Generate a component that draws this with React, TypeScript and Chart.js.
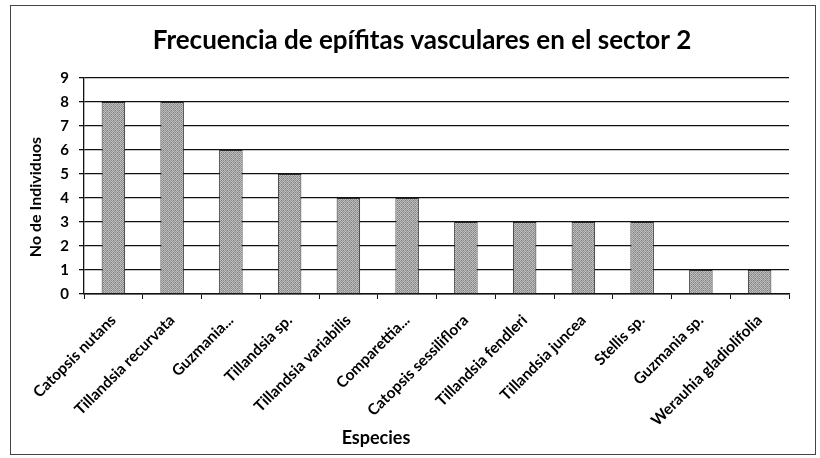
import React, { useEffect, useRef } from "react";
import { Chart, registerables } from "chart.js";

Chart.register(...registerables);

const categories = [
  "Catopsis nutans",
  "Tillandsia recurvata",
  "Guzmania...",
  "Tillandsia sp.",
  "Tillandsia variabilis",
  "Comparettia...",
  "Catopsis sessiliflora",
  "Tillandsia fendleri",
  "Tillandsia juncea",
  "Stellis sp.",
  "Guzmania sp.",
  "Werauhia gladiolifolia",
];
const counts = [8, 8, 6, 5, 4, 4, 3, 3, 3, 3, 1, 1];
const yMin = 0;
const yMax = 9;
const yStep = 1;
const chartTitle = "Frecuencia de epífitas vasculares en el sector 2";
const xTitle = "Especies";
const yTitle = "No de Individuos";

const FONT = "Lato, 'Open Sans', sans-serif";

function makeStipple(): CanvasPattern | string {
  const c = document.createElement("canvas");
  c.width = 4;
  c.height = 4;
  const g = c.getContext("2d");
  if (!g) return "#9d9d9d";
  const shades = [
    "#7c7c7c", "#c2c2c2", "#888888", "#bcbcbc",
    "#b8b8b8", "#9a9a9a", "#c6c6c6", "#8e8e8e",
    "#8a8a8a", "#c0c0c0", "#7e7e7e", "#bebebe",
    "#c4c4c4", "#929292", "#b6b6b6", "#969696",
  ];
  for (let i = 0; i < 16; i++) {
    g.fillStyle = shades[i];
    g.fillRect(i % 4, Math.floor(i / 4), 1, 1);
  }
  return g.createPattern(c, "repeat") || "#9d9d9d";
}

const textPlugin = {
  id: "textPlugin",
  afterDraw(chart: any) {
    const ctx = chart.ctx;
    ctx.save();
    ctx.fillStyle = "#000";
    ctx.textAlign = "center";
    ctx.textBaseline = "middle";
    ctx.font = `bold 26px ${FONT}`;
    ctx.fillText(chartTitle, 411, 35);
    ctx.font = `bold 18px ${FONT}`;
    ctx.fillText(xTitle, 365, 432);
    ctx.translate(25, 191);
    ctx.rotate(-Math.PI / 2);
    ctx.font = `bold 16px ${FONT}`;
    ctx.fillText(yTitle, 0, 0);
    ctx.restore();
  },
};

export default function App() {
  const ref = useRef<HTMLCanvasElement | null>(null);
  useEffect(() => {
    document.body.style.margin = "0";
    document.body.style.background = "#fff";
    const chart = new Chart(ref.current as HTMLCanvasElement, {
      type: "bar",
      data: {
        labels: categories,
        datasets: [
          {
            data: counts,
            backgroundColor: makeStipple() as any,
            borderColor: "#2a2a2a",
            borderWidth: 1,
            barPercentage: 0.4,
            categoryPercentage: 1,
          },
        ],
      },
      options: {
        animation: false,
        responsive: false,
        layout: { padding: { left: 0, right: 26, top: 72, bottom: 0 } },
        plugins: {
          legend: { display: false },
          title: { display: false },
          tooltip: { enabled: false },
        },
        scales: {
          x: {
            grid: {
              display: true,
              drawOnChartArea: false,
              drawTicks: true,
              tickLength: 5,
              offset: true,
              color: "#111",
            },
            border: { display: true, color: "#111", width: 1.5 },
            ticks: {
              color: "#000",
              font: { family: FONT, size: 15.5, weight: "bold" },
              minRotation: 45,
              maxRotation: 45,
              autoSkip: false,
              padding: 12,
            },
            afterFit(scale: any) {
              scale.height = 160;
            },
          },
          y: {
            min: yMin,
            max: yMax,
            grid: {
              color: "#111",
              lineWidth: 1.3,
              drawTicks: true,
              tickLength: 5,
            },
            border: { display: true, color: "#111", width: 1.3 },
            ticks: {
              stepSize: yStep,
              color: "#000",
              font: { family: FONT, size: 15, weight: "bold" },
              padding: 10,
            },
            afterFit(scale: any) {
              scale.width = 73;
            },
          },
        },
      },
      plugins: [textPlugin],
    });
    return () => chart.destroy();
  }, []);
  return (
    <div
      style={{
        position: "absolute",
        left: 10,
        top: 5,
        width: 806,
        height: 450,
        border: "1px solid #444",
        boxSizing: "border-box",
        background: "#fff",
      }}
    >
      <canvas ref={ref} width={804} height={448} style={{ display: "block" }} />
    </div>
  );
}
